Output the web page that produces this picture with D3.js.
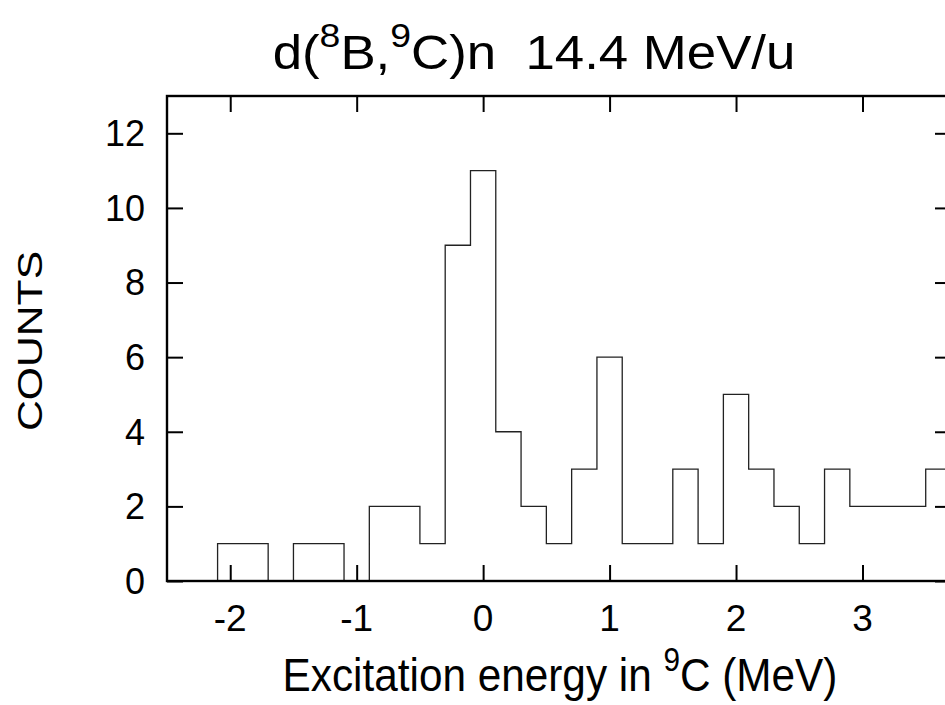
<!DOCTYPE html>
<html>
<head>
<meta charset="utf-8">
<script src="https://cdn.jsdelivr.net/npm/d3@7"></script>
<style>
  html, body { margin: 0; padding: 0; background: #fff; }
  svg { display: block; }
  text { font-family: "Liberation Sans", Arial, sans-serif; fill: #000; }
</style>
</head>
<body>
<svg id="chart" width="945" height="705"></svg>
<script>
// Histogram bins (left edges, MeV) and counts
const binLeft = [-2.1, -1.9, -1.7, -1.5, -1.3, -1.1, -0.9, -0.7, -0.5, -0.3, -0.1, 0.1, 0.3, 0.5, 0.7, 0.9, 1.1, 1.3, 1.5, 1.7, 1.9, 2.1, 2.3, 2.5, 2.7, 2.9, 3.1, 3.3, 3.5];
const counts  = [1, 1, 0, 1, 1, 0, 2, 2, 1, 9, 11, 4, 2, 1, 3, 6, 1, 1, 3, 1, 5, 3, 2, 1, 3, 2, 2, 2, 3];
const binWidth = 0.2;
const xTicks = [-2, -1, 0, 1, 2, 3];
const yTicks = [0, 2, 4, 6, 8, 10, 12];
const xDomain = [-2.5, 3.7];
const yDomain = [0, 13];

const svg = d3.select("#chart");
const L = 167, R = 951, T = 96, B = 581;
const x = d3.scaleLinear().domain(xDomain).range([L, R]);
const y = d3.scaleLinear().domain(yDomain).range([B, T]);
const tickLen = 16;

// histogram step outline
const pts = [[binLeft[0], 0]];
binLeft.forEach((b, i) => {
  pts.push([b, counts[i]]);
  pts.push([b + binWidth, counts[i]]);
});
pts.push([binLeft[binLeft.length - 1] + binWidth, 0]);
svg.append("path")
  .attr("d", d3.line().x(d => x(d[0])).y(d => y(d[1]))(pts))
  .attr("fill", "none")
  .attr("stroke", "#222")
  .attr("stroke-width", 1.3);

// axes with inward ticks
const axisStyle = g => {
  g.select(".domain").remove();
  g.selectAll(".tick line").attr("stroke", "#000").attr("stroke-width", 2);
};
svg.append("g").attr("transform", `translate(0,${B})`)
  .call(d3.axisBottom(x).tickValues(xTicks).tickSizeInner(-tickLen).tickSizeOuter(0).tickFormat(""))
  .call(axisStyle);
svg.append("g").attr("transform", `translate(0,${T})`)
  .call(d3.axisTop(x).tickValues(xTicks).tickSizeInner(-tickLen).tickSizeOuter(0).tickFormat(""))
  .call(axisStyle);
svg.append("g").attr("transform", `translate(${L},0)`)
  .call(d3.axisLeft(y).tickValues(yTicks).tickSizeInner(-tickLen).tickSizeOuter(0).tickFormat(""))
  .call(axisStyle);
svg.append("g").attr("transform", `translate(${R},0)`)
  .call(d3.axisRight(y).tickValues(yTicks).tickSizeInner(-tickLen).tickSizeOuter(0).tickFormat(""))
  .call(axisStyle);

// frame
svg.append("rect")
  .attr("x", L).attr("y", T).attr("width", R - L).attr("height", B - T)
  .attr("fill", "none").attr("stroke", "#000").attr("stroke-width", 2.4);

// tick labels
svg.append("g").selectAll("text").data(yTicks).join("text")
  .attr("x", L - 22).attr("y", d => y(d)).attr("dy", "0.36em")
  .attr("text-anchor", "end").attr("font-size", 36)
  .text(d => d);
svg.append("g").selectAll("text").data(xTicks).join("text")
  .attr("x", d => x(d)).attr("y", 631)
  .attr("text-anchor", "middle").attr("font-size", 37)
  .text(d => d);

// title
const title = svg.append("g").attr("transform", "translate(534,69) scale(1.1,1)")
  .append("text").attr("text-anchor", "middle").attr("font-size", 48);
title.append("tspan").text("d(");
title.append("tspan").attr("font-size", 34).attr("dy", -22).text("8");
title.append("tspan").attr("dy", 22).text("B,");
title.append("tspan").attr("font-size", 34).attr("dy", -22).text("9");
title.append("tspan").attr("dy", 22).text("C)n\u00a0\u00a014.4 MeV/u");

// x label
const xl = svg.append("g").attr("transform", "translate(560,691) scale(0.9,1)")
  .append("text").attr("text-anchor", "middle").attr("font-size", 47);
xl.append("tspan").text("Excitation energy in ");
xl.append("tspan").attr("font-size", 33).attr("dy", -20).text("9");
xl.append("tspan").attr("dy", 20).text("C (MeV)");

// y label
svg.append("g").attr("transform", "translate(42,341) rotate(-90) scale(1.22,1)")
  .append("text").attr("text-anchor", "middle").attr("font-size", 35)
  .text("COUNTS");
</script>
</body>
</html>
